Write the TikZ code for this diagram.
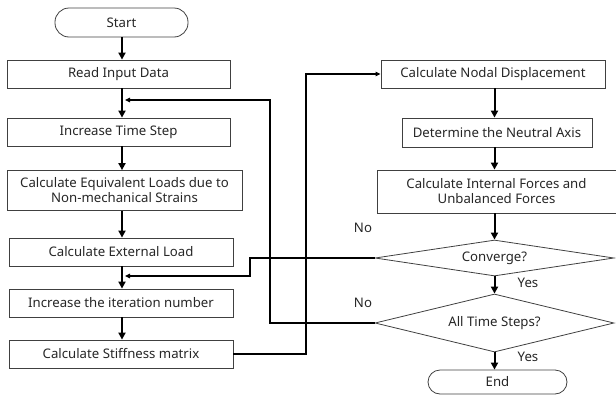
\documentclass[tikz,border=0pt]{standalone}
\usepackage{fontspec}
\setmainfont{Noto Sans}
\usetikzlibrary{shapes.geometric,arrows.meta}
\begin{document}
\begin{tikzpicture}[x=1pt,y=-1pt,
  every node/.style={font=\fontsize{13.2}{15}\selectfont, text=black!85},
  box/.style={draw=black!75, line width=0.8pt, inner sep=0pt, align=center},
  term/.style={box, rounded corners=14pt},
  dec/.style={draw=black!75, line width=0.8pt, diamond, inner sep=0pt},
  main/.style={line width=2pt, -{Triangle[length=7pt,width=7pt]}},
  back/.style={line width=1.2pt, -{Triangle[length=5pt,width=4.5pt]}},
  lbl/.style={inner sep=0pt}]
\useasboundingbox (0,0) rectangle (616,394);
% left column
\node[term, minimum width=133pt, minimum height=29pt] (start) at (121.5,22.5) {Start};
\node[box, minimum width=223pt, minimum height=28pt] (read) at (118.5,74) {Read Input Data};
\node[box, minimum width=223pt, minimum height=28pt] (its) at (118.5,132) {Increase Time Step};
\node[box, minimum width=235pt, minimum height=40pt] (equiv) at (124.5,190.5) {Calculate Equivalent Loads due to\\Non-mechanical Strains};
\node[box, minimum width=224pt, minimum height=28pt] (ext) at (121,252) {Calculate External Load};
\node[box, minimum width=224pt, minimum height=28pt] (iter) at (121,303) {Increase the iteration number};
\node[box, minimum width=224pt, minimum height=28pt] (stiff) at (121,354) {Calculate Stiffness matrix};
% right column
\node[box, minimum width=224pt, minimum height=28pt] (nodal) at (493,74) {Calculate Nodal Displacement};
\node[box, minimum width=190pt, minimum height=29pt] (neutral) at (497,132.5) {Determine the Neutral Axis};
\node[box, minimum width=239pt, minimum height=43pt] (internal) at (496.5,191.5) {Calculate Internal Forces and\\Unbalanced Forces};
\node[dec, minimum width=239pt, minimum height=36pt] (conv) at (494.5,258) {};
\node[dec, minimum width=239pt, minimum height=58pt] (all) at (494.5,323) {};
\node[term, minimum width=139pt, minimum height=24pt, rounded corners=12pt] (end) at (497.5,382) {End};
% labels
\node[lbl] (convtxt) at (494.5,258) {Converge?};
\node[lbl] (alltxt) at (494.5,323) {All Time Steps?};
\node[lbl] (no1) at (363,228) {No};
\node[lbl] (no2) at (363,303) {No};
\node[lbl] (yes1) at (528,283) {Yes};
\node[lbl] (yes2) at (528,357) {Yes};
% coordinates
\coordinate (xl) at (122,0);
\coordinate (xr) at (494.5,0);
\coordinate (fb1) at (125,276);
\coordinate (fb2) at (125,100);
% main arrows
\draw[main] (start.south -| xl) -- (read.north -| xl);
\draw[main] (read.south -| xl) -- (its.north -| xl);
\draw[main] (its.south -| xl) -- (equiv.north -| xl);
\draw[main] (equiv.south -| xl) -- (ext.north -| xl);
\draw[main] (ext.south -| xl) -- (iter.north -| xl);
\draw[main] (iter.south -| xl) -- (stiff.north -| xl);
\draw[main] (nodal.south -| xr) -- (neutral.north -| xr);
\draw[main] (neutral.south -| xr) -- (internal.north -| xr);
\draw[main] (internal.south -| xr) -- (conv.north);
\draw[main] (conv.south) -- (all.north);
\draw[main] (all.south) -- (end.north -| all.south);
% feedback lines
\draw[back] (conv.west) -- (250,258) -- (250,276) -- (fb1);
\draw[back] (all.west) -- (270,323) -- (270,100) -- (fb2);
\draw[back] (stiff.east) -- (306,354) -- (306,74) -- (nodal.west);
\end{tikzpicture}
\end{document}
